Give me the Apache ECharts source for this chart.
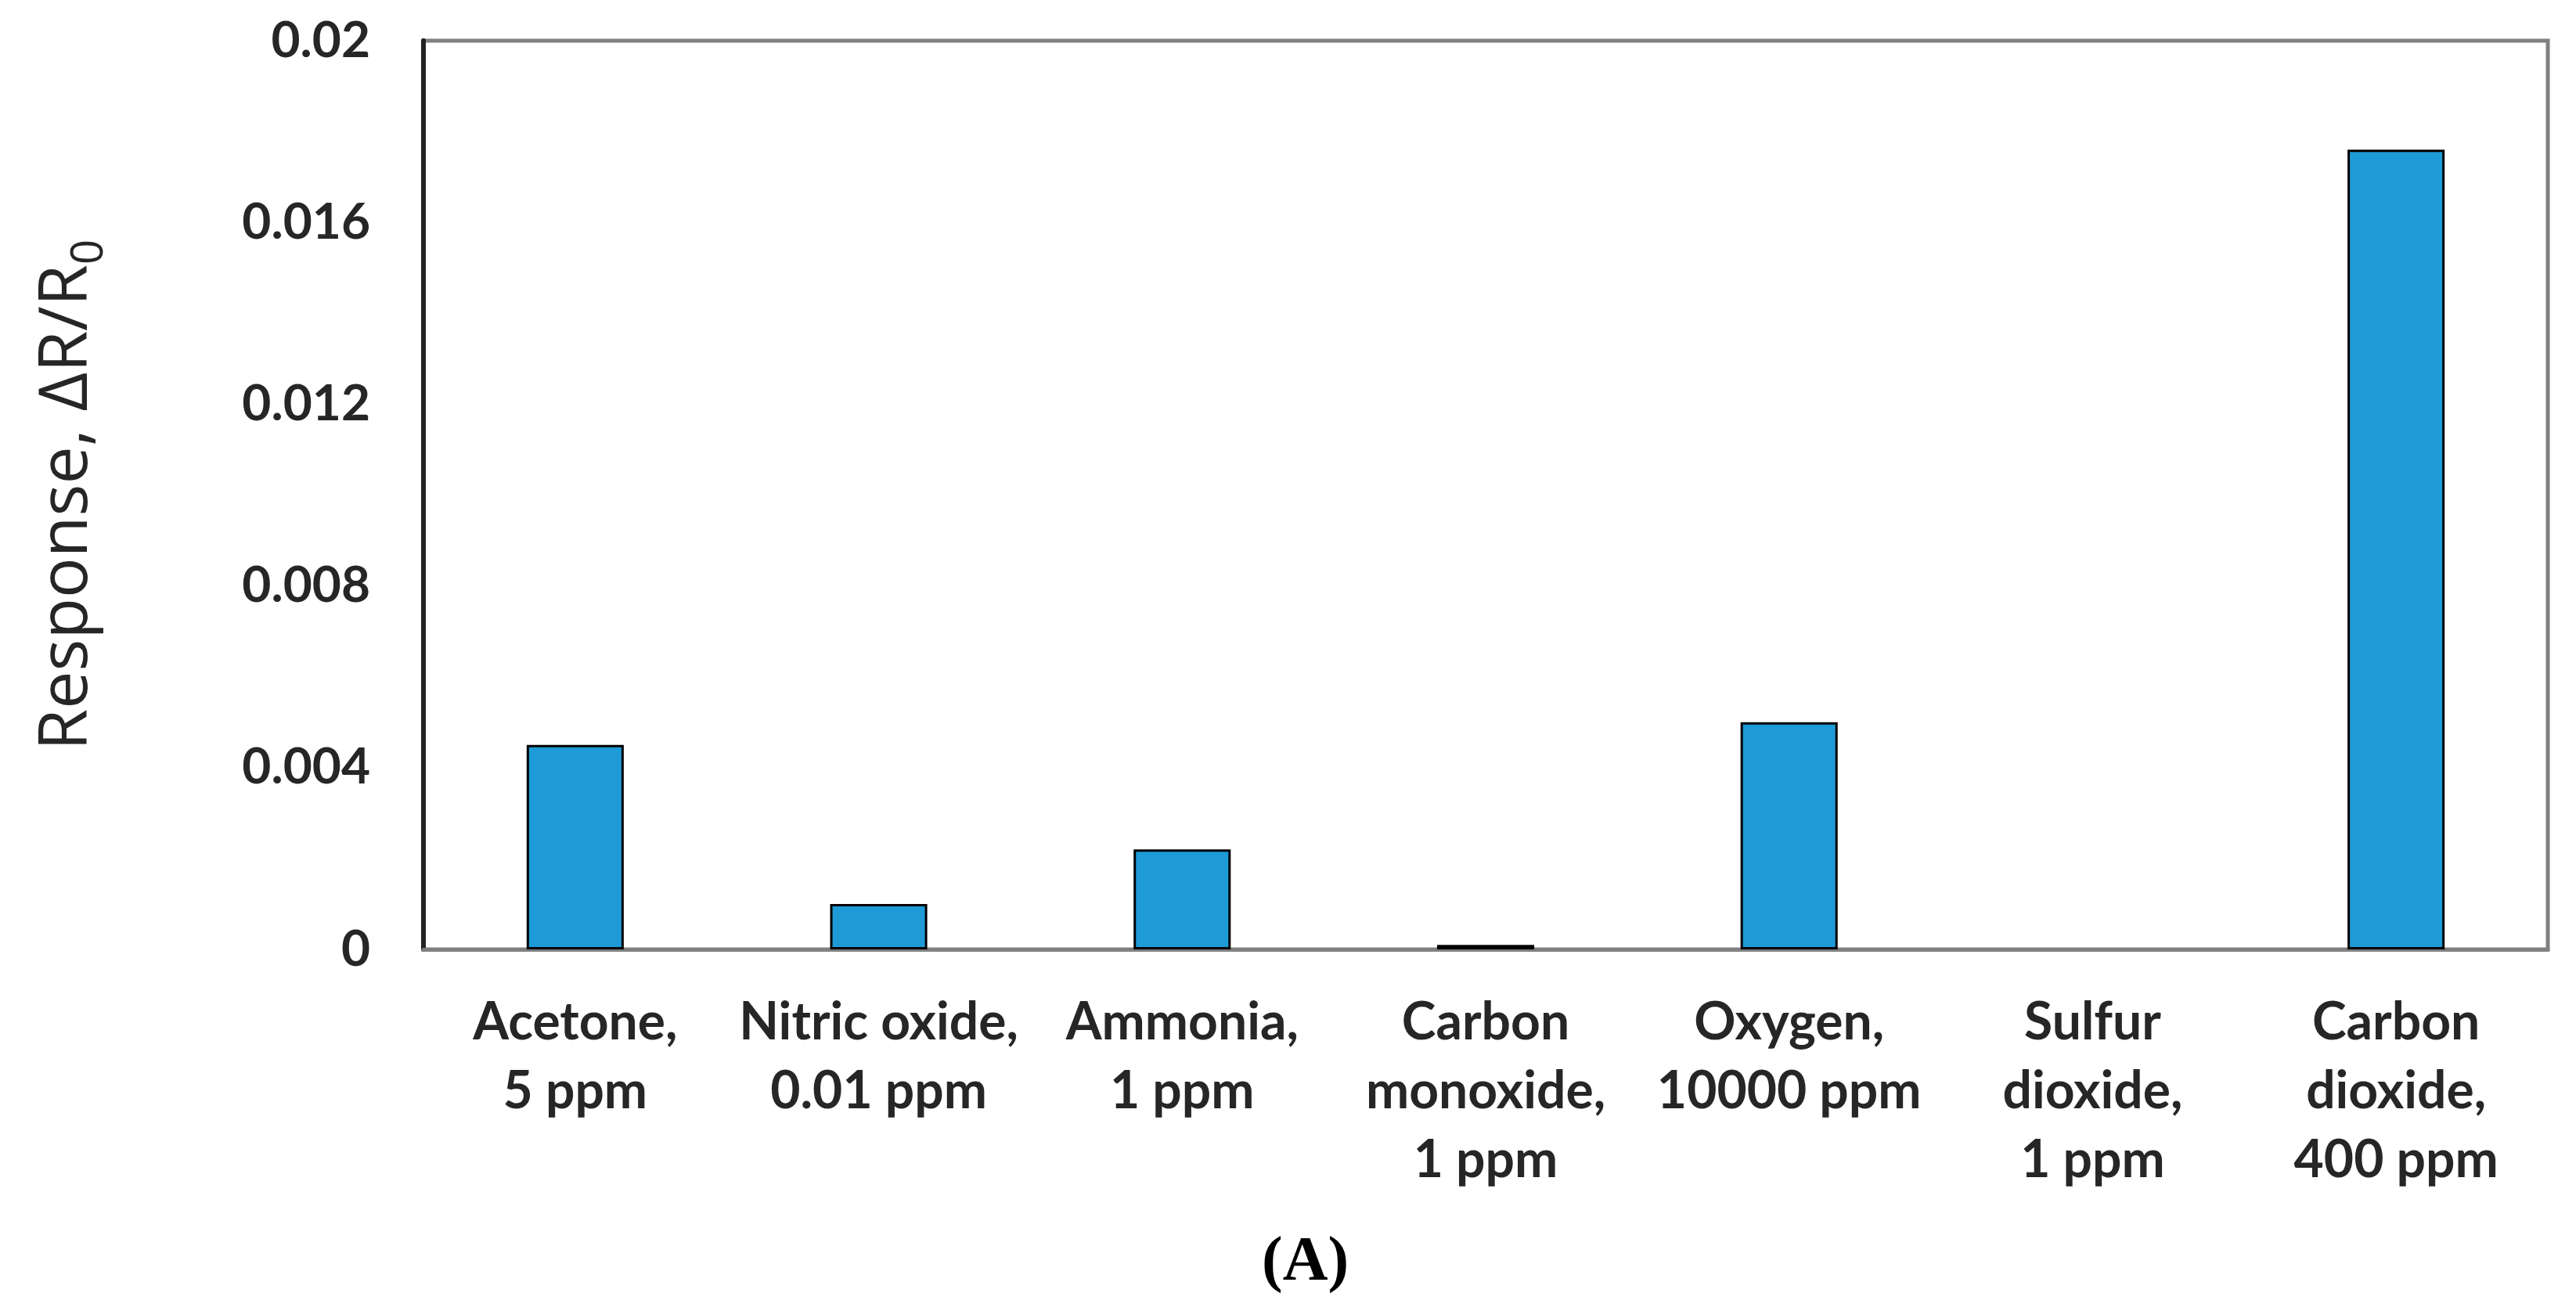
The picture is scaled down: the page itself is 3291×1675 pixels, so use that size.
<!DOCTYPE html>
<html>
<head>
<meta charset="utf-8">
<script src="https://cdn.jsdelivr.net/npm/echarts@6/dist/echarts.min.js"></script>
<style>
html,body{margin:0;padding:0;background:#fff;}
#chart{width:3291px;height:1675px;}
</style>
</head>
<body>
<div id="chart"></div>
<script>
const categories = [
  "Acetone,\n5 ppm",
  "Nitric oxide,\n0.01 ppm",
  "Ammonia,\n1 ppm",
  "Carbon\nmonoxide,\n1 ppm",
  "Oxygen,\n10000 ppm",
  "Sulfur\ndioxide,\n1 ppm",
  "Carbon\ndioxide,\n400 ppm"
];
const responseValues = [0.0045, 0.001, 0.0022, 0.0001, 0.005, 0, 0.0176];
const yTicks = { min: 0, max: 0.02, interval: 0.004 };
const yAxisTitle = "Response, ΔR/R";
const yAxisSub = "0";
const panelLabel = "(A)";

const chart = echarts.init(document.getElementById('chart'), null, {renderer: 'canvas'});
const catFont = 'Lato, "Open Sans", sans-serif';
const titleFont = '"Open Sans", sans-serif';
const option = {
  backgroundColor: '#ffffff',
  animation: false,
  grid: { left: 541, right: 36, top: 52, bottom: 462, show: true, borderColor: '#808080', borderWidth: 5, backgroundColor: 'transparent' },
  xAxis: {
    type: 'category',
    data: categories,
    axisLine: { show: true, lineStyle: { color: '#808080', width: 5 } },
    axisTick: { show: false },
    axisLabel: {
      interval: 0, margin: 50, color: '#262626',
      fontFamily: catFont, fontWeight: 'bold', fontSize: 66, lineHeight: 88
    },
    splitLine: { show: false }
  },
  yAxis: {
    type: 'value',
    min: yTicks.min, max: yTicks.max, interval: yTicks.interval,
    axisLine: { show: true, lineStyle: { color: '#222222', width: 6 } },
    axisTick: { show: false },
    splitLine: { show: false },
    axisLabel: {
      margin: 68, color: '#262626',
      fontFamily: catFont, fontWeight: 'bold', fontSize: 64,
      formatter: v => String(+v.toFixed(4))
    },
    name: '{main|' + yAxisTitle + '}{sub|' + yAxisSub + '}',
    nameLocation: 'middle',
    nameGap: 412,
    nameTextStyle: {
      rich: {
        main: { fontFamily: titleFont, fontSize: 86, color: '#262626', verticalAlign: 'bottom', lineHeight: 100 },
        sub: { fontFamily: titleFont, fontSize: 56, color: '#262626', verticalAlign: 'bottom', lineHeight: 100, padding: [0,0,-14,0] }
      }
    }
  },
  series: [{
    type: 'bar',
    data: responseValues.map(v => v === 0 ? { value: v, itemStyle: { borderWidth: 0 } } : v),
    barWidth: '32%',
    itemStyle: { color: '#1E9BD7', borderColor: '#000000', borderWidth: 3 }
  }],
  graphic: [{
    type: 'text',
    left: 1657 - 45, top: 1574,
    style: { text: panelLabel, font: 'bold 80px "Liberation Serif", "Times New Roman", serif', fill: '#000000' }
  }]
};
chart.setOption(option);
</script>
</body>
</html>
